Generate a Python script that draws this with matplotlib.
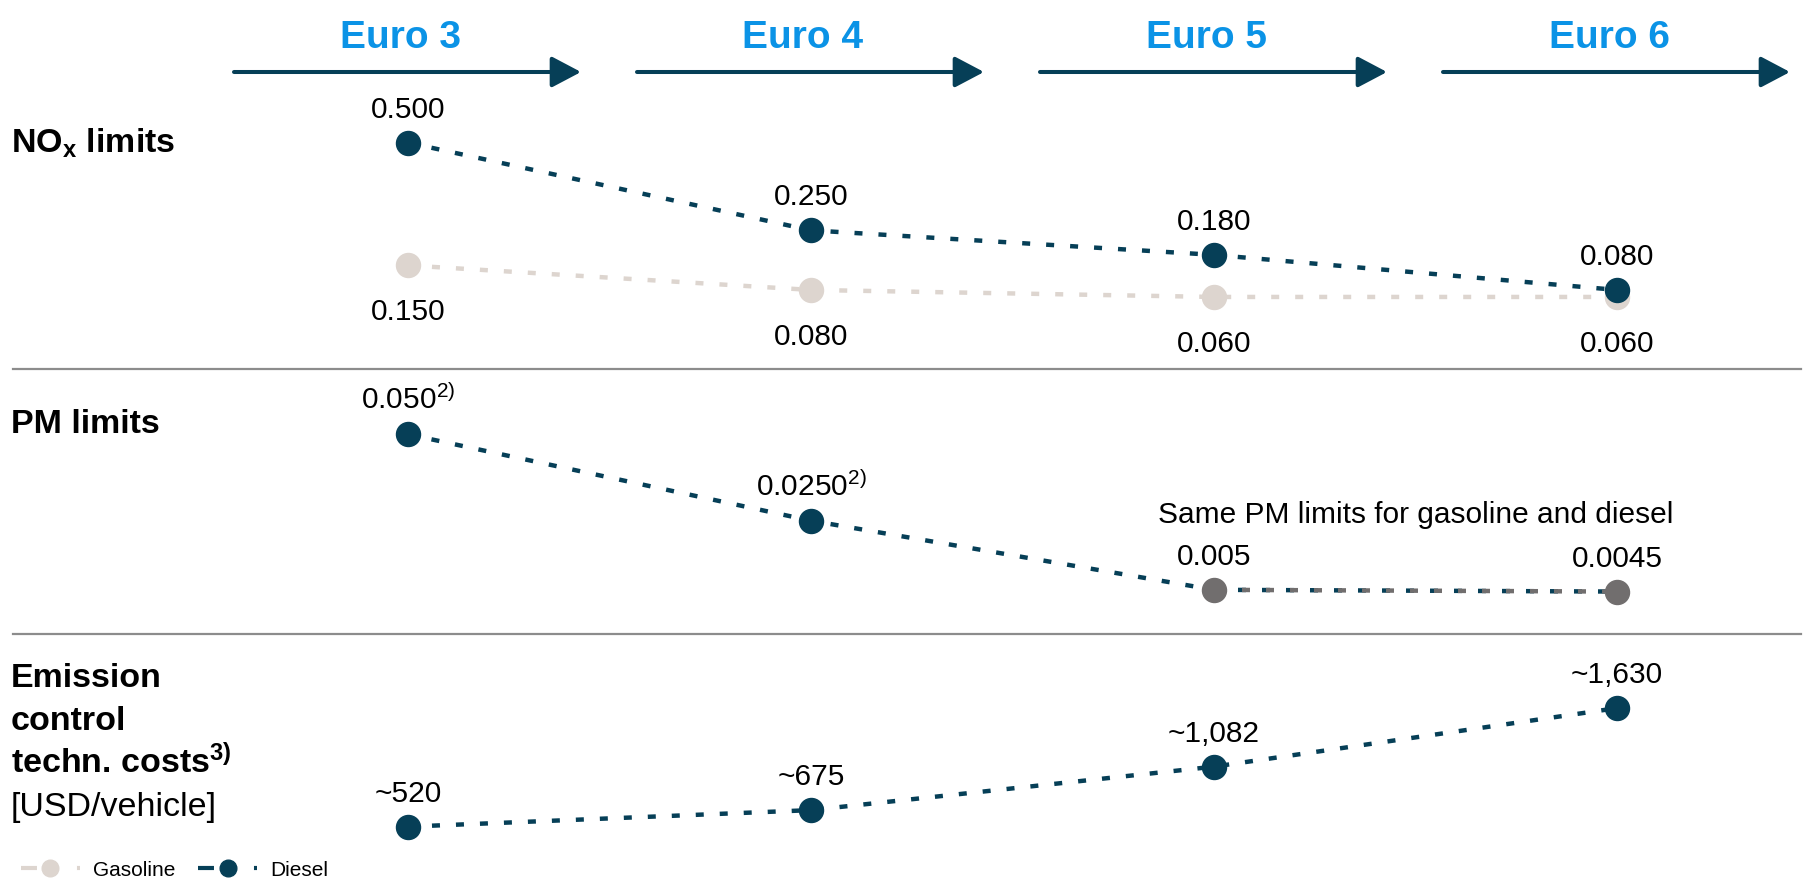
import matplotlib
matplotlib.use("Agg")
import matplotlib.pyplot as plt
from matplotlib.lines import Line2D

# ---------------- data ----------------
stages = ["Euro 3", "Euro 4", "Euro 5", "Euro 6"]

nox_diesel = [0.500, 0.250, 0.180, 0.080]
nox_gasoline = [0.150, 0.080, 0.060, 0.060]
nox_diesel_labels = ["0.500", "0.250", "0.180", "0.080"]
nox_gasoline_labels = ["0.150", "0.080", "0.060", "0.060"]

pm_diesel = [0.050, 0.025, 0.005, 0.0045]
pm_labels = [r"0.050$^{\mathregular{2)}}$", r"0.0250$^{\mathregular{2)}}$", "0.005", "0.0045"]
pm_shared_from = 2  # from this stage on: same PM limits for gasoline and diesel
pm_shared_note = "Same PM limits for gasoline and diesel"

cost_diesel = [520, 675, 1082, 1630]
cost_labels = ["~520", "~675", "~1,082", "~1,630"]

# ---------------- style ----------------
DIESEL = "#063F57"
GASOLINE = "#DDD5CF"
SHARED = "#716E6E"
EURO_BLUE = "#0B93E6"
SEP = "#8C8C8C"

NARROW = ["Liberation Sans Narrow", "Liberation Sans", "DejaVu Sans"]
REGULAR = ["Liberation Sans", "DejaVu Sans"]

plt.rcParams["font.family"] = NARROW
plt.rcParams["mathtext.default"] = "regular"
plt.rcParams["lines.scale_dashes"] = False

W, H = 1810, 888
fig = plt.figure(figsize=(W / 100, H / 100), dpi=100)

COL0_PX, COL_STEP_PX = 408, 403
XLIM = (-COL0_PX / COL_STEP_PX, (W - COL0_PX) / COL_STEP_PX)

DASH = (0, (5.76, 11.52))
LW = 3.2
MS = 17.3
NUM_FS = 21.5
TFS = 24.5
EURO_FS = 28
ABOVE = 18      # points, baseline above marker
BELOW = -39.6   # points, baseline below marker


def add_band(top, bottom):
    ax = fig.add_axes([0, 1 - bottom / H, 1, (bottom - top) / H])
    ax.set_xlim(*XLIM)
    ax.axis("off")
    return ax


def add_panel(top, bottom, zero_px, px_per_unit):
    ax = add_band(top, bottom)
    ax.set_ylim((zero_px - bottom) / px_per_unit, (zero_px - top) / px_per_unit)
    return ax


def label(ax, x, y, s, dy, **kw):
    ax.annotate(s, xy=(x, y), xytext=(0, dy), textcoords="offset points",
                ha="center", va="baseline", fontsize=NUM_FS, color="black",
                annotation_clip=False, **kw)


xs = list(range(len(stages)))

# ---------------- header: Euro stages with arrows ----------------
hdr = add_band(0, 95)
hdr.set_ylim(95, 0)
for i, s in enumerate(stages):
    hdr.annotate("", xy=(i + 173 / COL_STEP_PX, 72), xytext=(i - 174 / COL_STEP_PX, 72),
                 arrowprops=dict(arrowstyle="-|>,head_length=1.8,head_width=0.95",
                                 mutation_scale=10, lw=2.9, color=DIESEL,
                                 shrinkA=0, shrinkB=0),
                 annotation_clip=False)
    hdr.text(i - 8 / COL_STEP_PX, 47.5, s, ha="center", va="baseline",
             fontsize=EURO_FS, fontweight="bold", color=EURO_BLUE)

# ---------------- NOx panel ----------------
ax1 = add_panel(95, 369, 318.0, 350.7)
ax1.plot(xs, nox_gasoline, color=GASOLINE, lw=LW, linestyle=DASH, zorder=2, clip_on=False)
ax1.plot(xs, nox_gasoline, "o", color=GASOLINE, ms=MS, zorder=3, clip_on=False)
ax1.plot(xs, nox_diesel, color=DIESEL, lw=LW, linestyle=DASH, zorder=4, clip_on=False)
ax1.plot(xs, nox_diesel, "o", color=DIESEL, ms=MS, zorder=5, clip_on=False)
for i in xs:
    label(ax1, i, nox_diesel[i], nox_diesel_labels[i], ABOVE)
    label(ax1, i, nox_gasoline[i], nox_gasoline_labels[i], BELOW)

# ---------------- PM panel ----------------
ax2 = add_panel(369, 634, 607.1, 3456)
k = pm_shared_from
ax2.plot(xs[:k + 1], pm_diesel[:k + 1], color=DIESEL, lw=LW, linestyle=DASH, zorder=4, clip_on=False)
ax2.plot(xs[k:], pm_diesel[k:], color=DIESEL, lw=LW, linestyle=DASH, zorder=4, clip_on=False)
ax2.plot(xs[k:], pm_diesel[k:], color=SHARED, lw=LW, linestyle=(14.4, (5.76, 11.52)),
         zorder=4.5, clip_on=False)
ax2.plot(xs[:k], pm_diesel[:k], "o", color=DIESEL, ms=MS, zorder=5, clip_on=False)
ax2.plot(xs[k:], pm_diesel[k:], "o", color=SHARED, ms=MS, zorder=5, clip_on=False)
for i in xs:
    label(ax2, i, pm_diesel[i], pm_labels[i], ABOVE)
ax2.annotate(pm_shared_note, xy=((xs[k] + xs[-1]) / 2, pm_diesel[k]), xytext=(0, 48.3),
             textcoords="offset points", ha="center", va="baseline",
             fontsize=NUM_FS, annotation_clip=False)

# ---------------- Cost panel ----------------
ax3 = add_panel(634, 888, 882.2, 0.1068)
ax3.plot(xs, cost_diesel, color=DIESEL, lw=LW, linestyle=DASH, zorder=4, clip_on=False)
ax3.plot(xs, cost_diesel, "o", color=DIESEL, ms=MS, zorder=5, clip_on=False)
for i in xs:
    label(ax3, i, cost_diesel[i], cost_labels[i], ABOVE)

# ---------------- overlay: row titles and separators ----------------
ov = fig.add_axes([0, 0, 1, 1], zorder=-1)
ov.set_xlim(0, W)
ov.set_ylim(H, 0)
ov.axis("off")
ov.plot([13, 1801], [369, 369], color=SEP, lw=1.6)
ov.plot([13, 1801], [634, 634], color=SEP, lw=1.6)

ov.text(11, 153, r"NO$_{\mathregular{x}}$ limits", fontsize=TFS, fontweight="bold", va="baseline")
ov.text(11, 433, "PM limits", fontsize=TFS, fontweight="bold", va="baseline")
ov.text(11, 687, "Emission", fontsize=TFS, fontweight="bold", va="baseline")
ov.text(11, 730, "control", fontsize=TFS, fontweight="bold", va="baseline")
ov.text(11, 773, r"techn. costs$^{\mathregular{3)}}$", fontsize=TFS, fontweight="bold", va="baseline")
ov.text(11, 816, "[USD/vehicle]", fontsize=TFS, va="baseline")

# ---------------- legend ----------------
LEG_DASH = (0, (11.5, 28.8, 2.2, 40))
h_gas = Line2D([], [], color=GASOLINE, lw=3, linestyle=LEG_DASH, marker="o", ms=12)
h_dsl = Line2D([], [], color=DIESEL, lw=3, linestyle=LEG_DASH, marker="o", ms=12)
fig.legend(handles=[h_gas, h_dsl], labels=["Gasoline", "Diesel"], loc="center left",
           bbox_to_anchor=(21 / W, 1 - 870 / H), ncol=2, frameon=False,
           prop=dict(family=REGULAR, size=15), handlelength=2.83, handletextpad=0.62,
           columnspacing=1.1, borderpad=0, borderaxespad=0, numpoints=1)

fig.savefig("out.png", dpi=100)
